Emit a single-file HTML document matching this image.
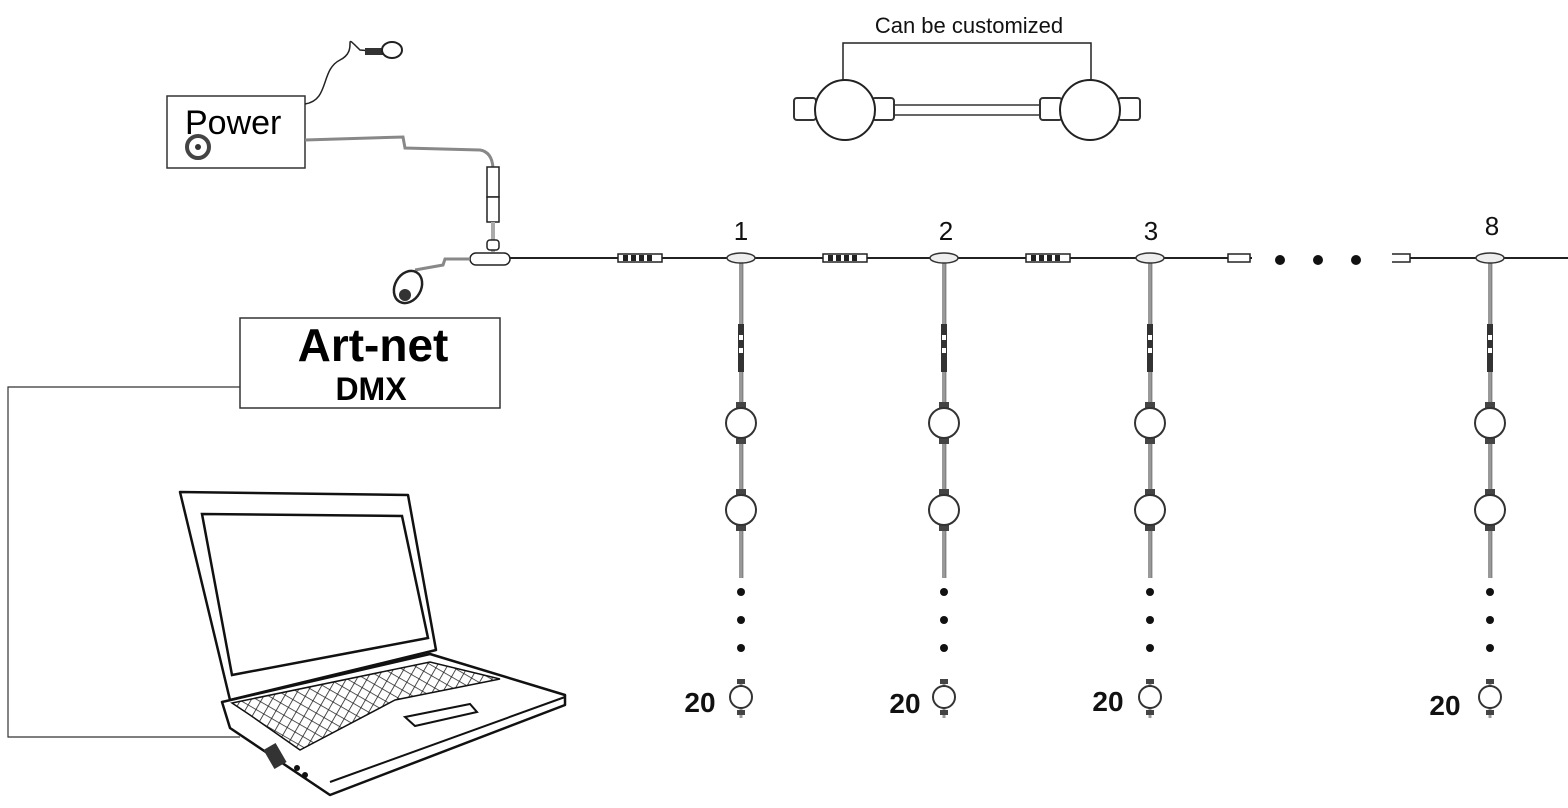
<!DOCTYPE html>
<html><head><meta charset="utf-8"><style>
html,body{margin:0;padding:0;background:#fff;}
svg{display:block;}
text{font-family:"Liberation Sans",sans-serif;}
</style></head><body>
<svg width="1568" height="808" viewBox="0 0 1568 808" xmlns="http://www.w3.org/2000/svg">
<defs>
<pattern id="kb" width="9" height="9" patternUnits="userSpaceOnUse" patternTransform="rotate(30)">
<rect width="9" height="9" fill="#fff"/>
<path d="M0 0H9M0 0V9" stroke="#222" stroke-width="1.6"/>
</pattern>
<g id="conn">
<rect x="-22" y="-4" width="44" height="8" fill="#fff" stroke="#222" stroke-width="1.5"/>
<rect x="-17" y="-3" width="5" height="6" fill="#222"/><rect x="-9" y="-3" width="5" height="6" fill="#222"/>
<rect x="-1" y="-3" width="5" height="6" fill="#222"/><rect x="7" y="-3" width="5" height="6" fill="#222"/>
</g>
<g id="ball">
<rect x="-5" y="-21" width="10" height="6" fill="#444"/>
<rect x="-5" y="15" width="10" height="6" fill="#444"/>
<circle r="15" fill="#fff" stroke="#333" stroke-width="2"/>
</g>
<g id="col">
<line x1="0" y1="262" x2="0" y2="578" stroke="#999" stroke-width="4"/>
<line x1="0" y1="262" x2="0" y2="578" stroke="#555" stroke-width="0.6" transform="translate(2,0)"/>
<ellipse cx="0" cy="258" rx="14" ry="5" fill="#eee" stroke="#333" stroke-width="1.5"/>
<rect x="-3" y="324" width="6" height="48" fill="#333"/>
<rect x="-2" y="335" width="4" height="5" fill="#fff"/><rect x="-2" y="348" width="4" height="5" fill="#fff"/>
<use href="#ball" y="423"/>
<use href="#ball" y="510"/>
<circle cx="0" cy="592" r="4" fill="#111"/>
<circle cx="0" cy="620" r="4" fill="#111"/>
<circle cx="0" cy="648" r="4" fill="#111"/>
<line x1="0" y1="680" x2="0" y2="718" stroke="#999" stroke-width="3"/>
<rect x="-4" y="679" width="8" height="5" fill="#444"/><rect x="-4" y="710" width="8" height="5" fill="#444"/>
<circle cx="0" cy="697" r="11" fill="#fff" stroke="#333" stroke-width="2"/>
</g>
</defs>

<!-- top detail -->
<text x="969" y="33" font-size="22" text-anchor="middle" fill="#111">Can be customized</text>
<path d="M843 110V43H1091V110" fill="none" stroke="#222" stroke-width="1.5"/>
<rect x="888" y="105" width="156" height="10" fill="#fff" stroke="#333" stroke-width="1.5"/>
<rect x="794" y="98" width="22" height="22" rx="3" fill="#fff" stroke="#333" stroke-width="2"/>
<rect x="872" y="98" width="22" height="22" rx="3" fill="#fff" stroke="#333" stroke-width="2"/>
<rect x="1040" y="98" width="22" height="22" rx="3" fill="#fff" stroke="#333" stroke-width="2"/>
<rect x="1118" y="98" width="22" height="22" rx="3" fill="#fff" stroke="#333" stroke-width="2"/>
<circle cx="845" cy="110" r="30" fill="#fff" stroke="#222" stroke-width="2"/>
<circle cx="1090" cy="110" r="30" fill="#fff" stroke="#222" stroke-width="2"/>

<!-- power -->
<rect x="167" y="96" width="138" height="72" fill="#fff" stroke="#333" stroke-width="1.5"/>
<text x="185" y="134" font-size="34" fill="#000">Power</text>
<circle cx="198" cy="147" r="11" fill="#fff" stroke="#444" stroke-width="4"/>
<circle cx="198" cy="147" r="3" fill="#333"/>
<path d="M305 104C330 100 320 70 340 60C360 50 340 30 360 50L385 52" fill="none" stroke="#222" stroke-width="1.5"/>
<rect x="365" y="48" width="20" height="7" fill="#333"/>
<ellipse cx="392" cy="50" rx="10" ry="8" fill="#fff" stroke="#222" stroke-width="2"/>
<path d="M305 140L403 137L405 148L480 150Q492 152 493 168" fill="none" stroke="#888" stroke-width="3"/>
<rect x="487" y="167" width="12" height="30" fill="#fff" stroke="#222" stroke-width="1.5"/>
<rect x="487" y="197" width="12" height="25" fill="#fff" stroke="#222" stroke-width="1.5"/>
<line x1="493" y1="222" x2="493" y2="252" stroke="#aaa" stroke-width="4"/>
<rect x="487" y="240" width="12" height="10" rx="3" fill="#fff" stroke="#222" stroke-width="1.5"/>
<rect x="470" y="253" width="40" height="12" rx="6" fill="#fff" stroke="#222" stroke-width="1.5"/>
<path d="M470 259H445L443 265L415 270" fill="none" stroke="#888" stroke-width="3"/>
<ellipse cx="408" cy="287" rx="13" ry="17" transform="rotate(30 408 287)" fill="#fff" stroke="#222" stroke-width="2.5"/>
<circle cx="405" cy="295" r="6" fill="#333"/>

<!-- main line -->
<line x1="510" y1="258" x2="1568" y2="258" stroke="#222" stroke-width="2"/>
<use href="#conn" x="640" y="258"/>
<use href="#conn" x="845" y="258"/>
<use href="#conn" x="1048" y="258"/>
<rect x="1228" y="254" width="22" height="8" fill="#fff" stroke="#222" stroke-width="1.5"/>
<rect x="1388" y="254" width="22" height="8" fill="#fff" stroke="#222" stroke-width="1.5"/>
<rect x="1252" y="250" width="140" height="16" fill="#fff"/>
<circle cx="1280" cy="260" r="5" fill="#111"/>
<circle cx="1318" cy="260" r="5" fill="#111"/>
<circle cx="1356" cy="260" r="5" fill="#111"/>

<use href="#col" x="741"/>
<use href="#col" x="944"/>
<use href="#col" x="1150"/>
<use href="#col" x="1490"/>
<text x="741" y="240" font-size="26" text-anchor="middle" fill="#111">1</text>
<text x="946" y="240" font-size="26" text-anchor="middle" fill="#111">2</text>
<text x="1151" y="240" font-size="26" text-anchor="middle" fill="#111">3</text>
<text x="1492" y="235" font-size="26" text-anchor="middle" fill="#111">8</text>
<text x="700" y="712" font-size="28" font-weight="bold" text-anchor="middle" fill="#111">20</text>
<text x="905" y="713" font-size="28" font-weight="bold" text-anchor="middle" fill="#111">20</text>
<text x="1108" y="711" font-size="28" font-weight="bold" text-anchor="middle" fill="#111">20</text>
<text x="1445" y="715" font-size="28" font-weight="bold" text-anchor="middle" fill="#111">20</text>

<!-- art-net -->
<rect x="240" y="318" width="260" height="90" fill="#fff" stroke="#333" stroke-width="1.5"/>
<text x="373" y="361" font-size="46" font-weight="bold" text-anchor="middle" fill="#000">Art-net</text>
<text x="371" y="400" font-size="32" font-weight="bold" text-anchor="middle" fill="#000">DMX</text>
<path d="M240 387H8V737H240" fill="none" stroke="#333" stroke-width="1.2"/>

<!-- laptop -->
<path d="M180 492L408 495L436 650L230 700Z" fill="#fff" stroke="#111" stroke-width="2.5" stroke-linejoin="round"/>
<path d="M202 514L402 516L428 638L232 675Z" fill="#fff" stroke="#111" stroke-width="2.5"/>
<path d="M222 702L430 654L565 695L565 705L330 795L230 728Z" fill="#fff" stroke="#111" stroke-width="2.5" stroke-linejoin="round"/>
<path d="M330 782L565 697" stroke="#111" stroke-width="2"/>
<path d="M232 703L430 662L500 679L395 700L300 750L250 715Z" fill="url(#kb)" stroke="#111" stroke-width="1.5"/>
<path d="M405 717L470 704L477 712L415 726Z" fill="#fff" stroke="#111" stroke-width="2"/>
<rect x="268" y="745" width="14" height="22" transform="rotate(-30 275 756)" fill="#333"/>
<circle cx="297" cy="768" r="3" fill="#111"/><circle cx="305" cy="775" r="3" fill="#111"/>
</svg>
</body></html>
